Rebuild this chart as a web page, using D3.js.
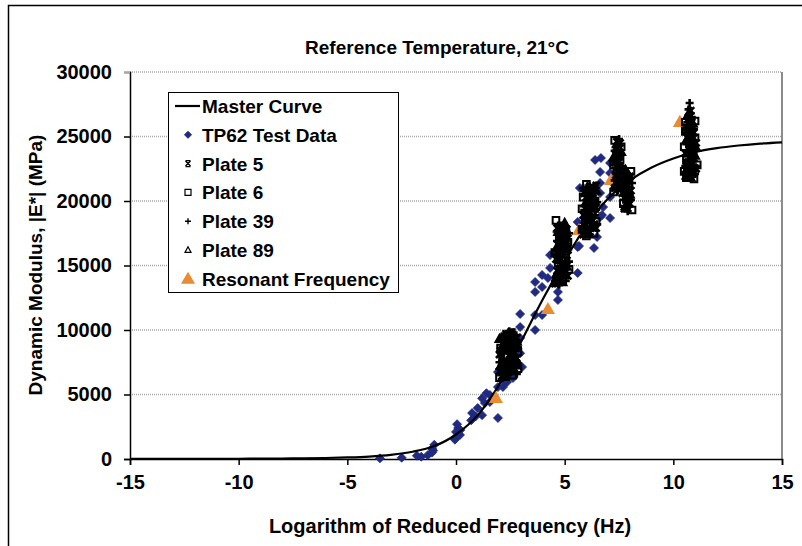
<!DOCTYPE html>
<html>
<head>
<meta charset="utf-8">
<script src="https://cdn.jsdelivr.net/npm/d3@7"></script>
<style>
  body { margin: 0; background: #fff; }
  text { font-family: "Liberation Sans", Arial, sans-serif; font-weight: bold; fill: #000; }
</style>
</head>
<body>
<svg id="chart" width="802" height="546"></svg>
<script>
// master curve (log reduced frequency, |E*| MPa)
var curveLogF = [-15,-14,-13,-12,-11,-10,-9,-8,-7,-6,-5,-4,-3,-2,-1,0,1,2,3,4,5,6,7,8,9,10,11,12,13,14,15];
var curveE = [5,6,8,10,14,19,26,36,52,78,120,190,320,560,1000,1900,3400,5800,9100,12400,15400,18100,20200,21600,22600,23300,23800,24100,24300,24450,24550];

// TP62 test data
var tp62 = [[-3.5,50],[-2.5,100],[-1.8,250],[-1.6,180],[-1.3,300],[-1.1,500],[-1.1,800],[-1.0,1100],[-1.05,650],
  [0.0,1700],[0.0,2100],[0.1,2400],[0.15,1900],[0.05,2700],[0.2,2250],[-0.05,1500],[0.18,1860],
  [0.7,3000],[0.74,3560],[0.9,3300],[1.0,3950],[1.2,3400],[1.33,4340],[1.56,4420],[1.56,4960],[1.4,5100],[1.2,4700],
  [1.93,3180],[2.16,5580],[2.35,5970],[1.93,6740],[1.93,5580],[2.25,5970],[2.62,6280],[3.04,7130],[2.95,8200],
  [2.95,9380],[2.95,10230],[3.64,10000],[2.95,11240],[3.64,13720],[3.64,12950],[3.96,14260],[3.96,13330],
  [4.23,14030],[4.33,15810],[4.33,14810],[4.69,13720],[4.69,12950],[4.69,12330],[4.65,17600],[5.02,17900],
  [3.64,11160],[3.96,11160],[5.6,18370],[5.6,16430],[5.6,14420],[5.66,16510],[6.35,16360],
  [6.4,23180],[6.67,23330],[7.09,22950],[6.63,22250],[7.09,22170],[5.7,21010],[6.63,21400],[6.63,20620],
  [7.09,20310],[6.72,18910],[7.09,18680],[6.77,19530],[6.49,17210],[6.63,18760]];

// plate specimens
var plate5 = [[2.1,6400],[2.4,6700],[2.7,6900],[2.2,7300],[2.5,7600],[2.8,7800],[2.0,8100],[2.35,8400],[2.65,8600],[2.15,8900],[2.5,9200],[2.8,9400],[2.3,9700],[2.6,7100],
  [2.25,6600],[2.55,6950],[2.35,7450],[2.7,8250],[2.05,8400],[2.45,8950],[2.7,9150],[2.2,9450],[2.85,7250],[2.0,6800],
  [4.55,13600],[4.85,13900],[5.15,14200],[4.65,14600],[4.95,15000],[4.6,15500],[4.9,15900],[5.15,16200],[4.7,16600],[5.0,17000],[4.8,17400],[5.1,17800],[4.95,18100],
  [4.7,13900],[5.0,14400],[4.8,14800],[5.1,15400],[4.75,16100],[5.0,16500],[4.9,17200],[4.65,17900],[5.15,17100],
  [5.85,17400],[6.15,17600],[6.45,17900],[5.95,18200],[6.3,18500],[5.85,18900],[6.15,19200],[6.45,19500],[6.0,19900],[6.3,20200],[5.9,20600],[6.2,20900],[6.45,21200],
  [6.05,17500],[6.35,18100],[6.1,18700],[5.95,19400],[6.35,19900],[6.1,20400],[6.3,21000],[5.9,18500],
  [7.3,21000],[7.55,21500],[7.35,22000],[7.6,22500],[7.3,23000],[7.5,23500],[7.35,24000],[7.55,24500],[7.75,19400],[8.0,19800],[7.8,20300],[8.05,20800],[7.85,21300],[8.0,21900],
  [7.45,21300],[7.45,22300],[7.5,23000],[7.45,23800],[7.4,24600],[7.9,19700],[7.9,20600],[7.95,21500],[7.75,22000],[7.65,20600],
  [10.55,21900],[10.85,22200],[11.05,22500],[10.65,22900],[10.95,23300],[10.55,23700],[10.8,24100],[11.05,24500],[10.65,24900],[10.95,25300],[10.6,25700],[10.85,26100],[10.7,26500],[10.8,27000],
  [10.75,22000],[10.7,22700],[10.85,23500],[10.75,24300],[10.85,24800],[10.8,25500],[10.75,26000],[10.95,22600],[10.6,23000]];
var plate6 = [[2.0,6300],[2.3,6600],[2.6,6500],[2.85,7000],[2.1,7000],[2.45,7300],[2.75,7400],[2.25,7900],[2.55,8100],[2.85,8300],[2.05,8600],[2.4,8800],[2.7,9000],[2.25,9500],[2.55,9800],
  [4.6,13800],[4.95,14300],[5.2,14700],[4.7,15200],[5.05,15600],[4.55,16000],[4.85,16400],[5.15,16800],[4.75,17200],[5.05,17600],[4.6,18500],[4.9,18000],
  [6.0,17300],[6.35,17500],[5.8,17800],[6.1,18100],[6.45,18400],[5.95,18700],[6.25,19000],[5.8,19400],[6.1,19700],[6.4,20000],[5.85,20300],[6.15,20600],[6.35,21000],[6.0,21300],
  [7.25,20700],[7.5,21200],[7.65,21800],[7.4,22300],[7.25,22800],[7.55,23200],[7.4,23700],[7.6,24200],[7.3,24700],[7.7,19800],[7.95,20200],[8.1,19300],[7.85,20700],[7.7,21500],[8.05,22300],
  [10.6,21800],[10.95,21700],[10.5,22300],[10.75,22600],[11.1,22800],[10.6,23200],[10.9,23600],[10.5,24200],[10.75,24500],[11.0,24900],[10.55,25400],[10.8,25800],[11.0,26200],[10.55,26100],[10.65,22500]];
var plate39 = [[2.15,6500],[2.5,6900],[2.8,6600],[2.0,7500],[2.35,7700],[2.65,8000],[2.2,8300],[2.5,8500],[2.85,8700],[2.1,9100],[2.4,9300],[2.7,9600],[2.45,9900],
  [2.3,6400],[2.65,7300],[2.15,7600],[2.5,8200],[2.75,8400],[2.3,8600],[2.6,9000],[2.3,9300],[2.65,9800],
  [4.75,13500],[5.05,13800],[4.6,14100],[4.9,14500],[5.2,15300],[4.7,15700],[5.0,16100],[4.65,16900],[4.95,17300],[5.2,17500],[4.85,17800],
  [4.85,13700],[4.75,14300],[5.05,14800],[4.85,15200],[4.6,15900],[4.85,16300],[5.1,16700],[4.75,17100],[4.7,18100],
  [5.9,17500],[6.25,17900],[6.5,18200],[6.05,18600],[6.4,18900],[5.9,19300],[6.2,19600],[6.5,19900],[6.0,20400],[6.3,20700],[5.85,21000],
  [6.15,17400],[5.95,17900],[6.25,18300],[6.05,19100],[6.3,19500],[6.15,20000],[5.95,20500],[6.15,21100],
  [7.45,20800],[7.3,21600],[7.5,22100],[7.65,22700],[7.4,23300],[7.3,23900],[7.5,24800],[7.9,19200],[8.05,20100],[7.75,20500],[7.95,21100],[7.9,21700],[8.1,21400],
  [7.4,21100],[7.55,21900],[7.35,22600],[7.55,23500],[7.45,24200],[7.85,19500],[8.0,20300],[7.8,21000],[8.05,21800],[7.7,20100],
  [10.7,21900],[11.0,22100],[10.55,22700],[10.85,23000],[10.7,23500],[11.05,23900],[10.6,24400],[10.9,24700],[10.7,25100],[10.95,25600],[10.75,26300],[10.8,26800],[10.75,27600],
  [10.6,22200],[10.9,22400],[10.7,23200],[10.9,24000],[10.75,24700],[10.6,25300],[10.85,25800],[10.65,26100],[10.85,26500],[10.7,27100]];
var plate89 = [[2.25,6350],[2.55,6800],[2.05,7200],[2.4,7400],[2.75,7700],[2.15,7800],[2.6,8300],[2.3,8700],[2.8,9100],[2.0,9300],[2.55,9500],[2.35,9000],
  [4.9,13700],[4.65,14400],[5.1,14900],[4.8,15400],[4.6,16300],[5.1,16500],[4.9,16700],[4.8,17100],[5.0,18300],[4.7,17600],
  [6.1,17400],[5.85,18000],[6.3,18300],[6.05,19000],[6.35,19400],[5.95,19800],[6.25,20500],[6.05,21100],[6.45,20800],[5.95,17700],
  [7.35,21300],[7.6,21000],[7.45,22600],[7.25,23400],[7.6,23800],[7.4,24400],[7.8,19600],[8.0,20500],[7.7,21100],[7.95,22000],[7.8,22400],
  [10.8,21800],[10.6,22400],[10.9,22800],[10.7,23900],[11.0,23500],[10.6,24700],[10.85,25000],[10.7,25500],[10.9,26000],[10.65,26600],[11.05,24100]];

// resonant frequency results
var resonant = [[1.84,4650],[4.23,11550],[5.66,17670],[7.13,21550],[10.3,26050]];

var xTicks = [-15,-10,-5,0,5,10,15];
var yTicks = [0,5000,10000,15000,20000,25000,30000];
var legendNames = ["Master Curve","TP62 Test Data","Plate 5","Plate 6","Plate 39","Plate 89","Resonant Frequency"];

var navy = "#1f2a80";
var orange = "#e98b30";

var svg = d3.select("#chart");

// outer frame (only top and left edges are in view)
svg.append("rect")
   .attr("x",8.5).attr("y",5.5)
   .attr("width",830).attr("height",600)
   .style("fill","none").style("stroke","#000").style("stroke-width",1.5);

var x0 = 130, x1 = 782, y0 = 459, y1 = 72;
var x = d3.scaleLinear().domain([-15,15]).range([x0,x1]);
var y = d3.scaleLinear().domain([0,30000]).range([y0,y1]);

// gridlines
svg.append("g").selectAll("line")
   .data(yTicks.filter(function(d){ return d > 0; }))
   .enter().append("line")
   .attr("x1",x0).attr("x2",x1)
   .attr("y1",function(d){ return y(d); })
   .attr("y2",function(d){ return y(d); })
   .style("stroke","#a8a8a8").style("stroke-width",1.5)
   .style("stroke-dasharray","1,1");

// right border of plot area
svg.append("line")
   .attr("x1",x1).attr("x2",x1).attr("y1",y1).attr("y2",y0)
   .style("stroke","#666").style("stroke-width",1.5);

// axes
var fmt = function(d){ return String(d); };
var yAxis = svg.append("g")
   .attr("transform","translate(" + x0 + ",0)")
   .call(d3.axisLeft(y).tickValues(yTicks).tickSize(6).tickPadding(12).tickFormat(fmt));
var xAxis = svg.append("g")
   .attr("transform","translate(0," + y0 + ")")
   .call(d3.axisBottom(x).tickValues(xTicks).tickSize(6).tickPadding(10).tickFormat(fmt));

[xAxis,yAxis].forEach(function(a){
    a.select(".domain").style("stroke","#000").style("stroke-width",1.5);
    a.selectAll(".tick line").style("stroke","#000").style("stroke-width",1.5);
    a.selectAll("text").style("font-size","20px").style("font-family","Liberation Sans, Arial").style("font-weight","bold");
});
yAxis.selectAll(".tick").filter(function(d){ return d === 30000; }).select("line").style("stroke","#a8a8a8");

// symbols
var diamond = "M0,-4.5L4.5,0L0,4.5L-4.5,0Z";
var tri = d3.symbol().type(d3.symbolTriangle).size(85);
var square = "M-3.3,-3.3H3.3V3.3H-3.3Z";
var plus = "M-4,0H4M0,-4V4";
var star = "M-3.5,-3.5L3.5,3.5M3.5,-3.5L-3.5,3.5M0,-4V4";
var openTri = "M0,-4.2L4,3H-4Z";

function drawSeries(cls, data, path, fill, stroke, sw) {
    svg.append("g").attr("class",cls).selectAll("path")
       .data(data).enter().append("path")
       .attr("d",path)
       .attr("transform",function(d){ return "translate(" + x(d[0]) + "," + y(d[1]) + ")"; })
       .style("fill",fill).style("stroke",stroke).style("stroke-width",sw);
}

drawSeries("tp62", tp62, diamond, navy, navy, 0.8);

// master curve
var curvePts = curveLogF.map(function(f,i){ return [f, curveE[i]]; });
svg.append("path")
   .datum(curvePts)
   .attr("d", d3.line().x(function(d){ return x(d[0]); }).y(function(d){ return y(d[1]); }).curve(d3.curveMonotoneX))
   .style("fill","none").style("stroke","#000").style("stroke-width",2.2);

drawSeries("resonant", resonant, tri, orange, "none", 0);
drawSeries("plate6", plate6, square, "none", "#000", 2);
drawSeries("plate89", plate89, openTri, "#000", "#000", 2);
drawSeries("plate5", plate5, star, "none", "#000", 2.6);
drawSeries("plate39", plate39, plus, "none", "#000", 2.6);

// titles
svg.append("text")
   .attr("x",437).attr("y",54)
   .attr("text-anchor","middle")
   .style("font-size","19px")
   .text("Reference Temperature, 21°C");
svg.append("text")
   .attr("x",450).attr("y",533)
   .attr("text-anchor","middle")
   .style("font-size","20px")
   .text("Logarithm of Reduced Frequency (Hz)");
svg.append("text")
   .attr("transform","translate(42,265) rotate(-90)")
   .attr("text-anchor","middle")
   .style("font-size","19px")
   .text("Dynamic Modulus, |E*| (MPa)");

// legend
var lg = svg.append("g").attr("class","legend");
lg.append("rect")
  .attr("x",168.5).attr("y",92.5).attr("width",230).attr("height",200)
  .style("fill","#fff").style("stroke","#000").style("stroke-width",1);

var legendSym = [null, "M0,-3.5L3.5,0L0,3.5L-3.5,0Z", "M-2.5,-2.5L2.5,2.5M2.5,-2.5L-2.5,2.5M-2.5,-3H2.5M-2.5,3H2.5", "M-3,-3H3V3H-3Z", "M-3,0H3M0,-3V3", "M0,-3.2L3,2.4H-3Z", tri];
var rows = lg.selectAll("g.row")
  .data(legendNames)
  .enter().append("g")
  .attr("class","row")
  .attr("transform",function(d,i){ return "translate(0," + (106 + i*28.8) + ")"; });

rows.append("text")
  .attr("x",202).attr("y",7)
  .style("font-size","19px")
  .text(function(d){ return d; });

rows.each(function(d,i){
    var r = d3.select(this);
    if (i === 0) {
        r.append("line").attr("x1",175).attr("x2",200).attr("y1",0).attr("y2",0)
         .style("stroke","#000").style("stroke-width",2.2);
        return;
    }
    var p = r.append("path").attr("d",legendSym[i]).attr("transform","translate(188,0)");
    if (i === 1) p.style("fill",navy).style("stroke",navy);
    else if (i === 6) p.attr("transform","translate(188,1)").style("fill",orange);
    else if (i === 3 || i === 5) p.style("fill","#fff").style("stroke","#000").style("stroke-width",1.2);
    else p.style("fill","none").style("stroke","#000").style("stroke-width",1.4);
});
</script>
</body>
</html>
